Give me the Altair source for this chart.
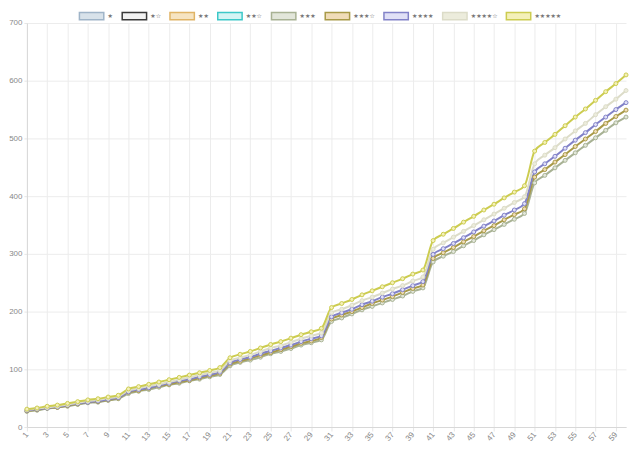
import altair as alt
import pandas as pd

# ---- data ----
levels = list(range(1, 61))
series_names = ["★", "★☆", "★★", "★★☆", "★★★", "★★★☆", "★★★★", "★★★★☆", "★★★★★"]
stroke_colors = ["#9fb4c8", "#3a3a3a", "#e0b466", "#3cc8c8", "#a8b294", "#a89a48", "#8282c8", "#dcdcc8", "#cccc50"]
fill_colors = ["#d8e2ea", "#f2f2f2", "#f6e4c2", "#d4f4f4", "#e2e6da", "#f0dcb8", "#e0e0f6", "#ececdc", "#f4f0b8"]

star3 = [27, 29, 32, 34, 36, 39, 42, 43, 46, 49,
         58, 62, 65, 69, 73, 76, 80, 83, 87, 91,
         106, 112, 116, 121, 127, 131, 136, 142, 146, 151,
         183, 189, 196, 203, 209, 215, 221, 227, 235, 241,
         286, 296, 304, 314, 323, 333, 342, 351, 360, 370,
         423, 436, 449, 462, 475, 488, 501, 514, 527, 537]
star3h = [28, 30, 33, 34, 37, 40, 43, 44, 47, 50,
          60, 63, 67, 71, 74, 78, 81, 85, 89, 93,
          109, 114, 119, 124, 129, 134, 139, 145, 149, 155,
          187, 194, 200, 207, 214, 220, 226, 233, 240, 246,
          292, 302, 311, 321, 330, 340, 349, 359, 368, 378,
          433, 446, 459, 472, 486, 499, 512, 526, 538, 549]
star4 = [29, 31, 33, 35, 38, 41, 43, 45, 48, 51,
         61, 65, 68, 72, 76, 80, 83, 87, 91, 95,
         111, 117, 121, 127, 132, 137, 142, 148, 153, 158,
         191, 198, 204, 212, 218, 225, 231, 238, 245, 252,
         299, 309, 318, 328, 338, 348, 357, 367, 376, 387,
         442, 456, 469, 483, 497, 510, 524, 537, 550, 562]
star4h = [30, 32, 34, 36, 39, 42, 45, 47, 50, 53,
          63, 67, 71, 74, 78, 82, 86, 90, 94, 98,
          115, 120, 125, 131, 137, 141, 147, 153, 158, 163,
          198, 204, 211, 219, 225, 232, 239, 245, 253, 260,
          308, 319, 329, 339, 349, 359, 369, 379, 389, 399,
          456, 471, 484, 499, 513, 526, 541, 555, 568, 583]
star5 = [31, 33, 36, 38, 41, 44, 47, 49, 52, 55,
         66, 70, 74, 78, 82, 86, 90, 94, 98, 103,
         120, 126, 131, 137, 143, 148, 154, 160, 165, 171,
         207, 214, 221, 229, 236, 243, 250, 257, 265, 272,
         323, 334, 344, 355, 365, 376, 386, 397, 407, 418,
         478, 493, 507, 522, 537, 551, 566, 581, 595, 610]

visible = {"★★★": star3, "★★★☆": star3h, "★★★★": star4, "★★★★☆": star4h, "★★★★★": star5}

rows = []
for order, (name, vals) in enumerate(visible.items()):
    for lv, v in zip(levels, vals):
        rows.append({"level": lv, "value": v, "series": name, "ord": order})
df = pd.DataFrame(rows)

odd_ticks = [v for v in levels if v % 2 == 1]

legend = alt.Legend(
    orient="none", legendX=58, legendY=-14, direction="horizontal", columns=9,
    title=None, symbolType="M-2,-0.6H2V0.6H-2Z", symbolSize=150,
    symbolStrokeWidth=1.5, labelFontSize=6, labelColor="#777",
    labelFont="DejaVu Sans", columnPadding=5, labelOffset=9, symbolOffset=0,
)

stroke_scale = alt.Scale(domain=series_names, range=stroke_colors)
fill_scale = alt.Scale(domain=series_names, range=fill_colors)

base = alt.Chart(df).encode(
    x=alt.X("level:Q", title=None,
            scale=alt.Scale(domain=[1, 60], nice=False, zero=False),
            axis=alt.Axis(values=odd_ticks, labelAngle=-50, labelFontSize=8,
                          labelColor="#888", tickSize=4, tickColor="#e6e6e6",
                          domainColor="#d8d8d8", gridColor="#ececec", labelPadding=2)),
    y=alt.Y("value:Q", title=None,
            scale=alt.Scale(domain=[0, 700], nice=False),
            axis=alt.Axis(values=[0, 100, 200, 300, 400, 500, 600, 700], labelFontSize=8,
                          labelColor="#888", tickSize=3, tickColor="#e6e6e6",
                          domainColor="#d8d8d8", gridColor="#ececec", labelPadding=2)),
    order=alt.Order("level:Q"),
)

lines = base.mark_line(interpolate="monotone", strokeWidth=2).encode(
    stroke=alt.Stroke("series:N", scale=stroke_scale, legend=legend),
    detail="series:N",
)
points = base.mark_point(filled=True, size=16, strokeWidth=1, opacity=1).encode(
    stroke=alt.Stroke("series:N", scale=stroke_scale, legend=legend),
    fill=alt.Fill("series:N", scale=fill_scale, legend=legend),
    detail="series:N",
)

chart = alt.layer(lines, points).properties(
    width=602, height=406, padding={"left": 0, "top": 0, "right": 2, "bottom": 0}
).configure_view(stroke=None).configure_axis(labelFont="Liberation Sans")

chart.save("out.html", embed_options={"renderer": "svg", "actions": False})
